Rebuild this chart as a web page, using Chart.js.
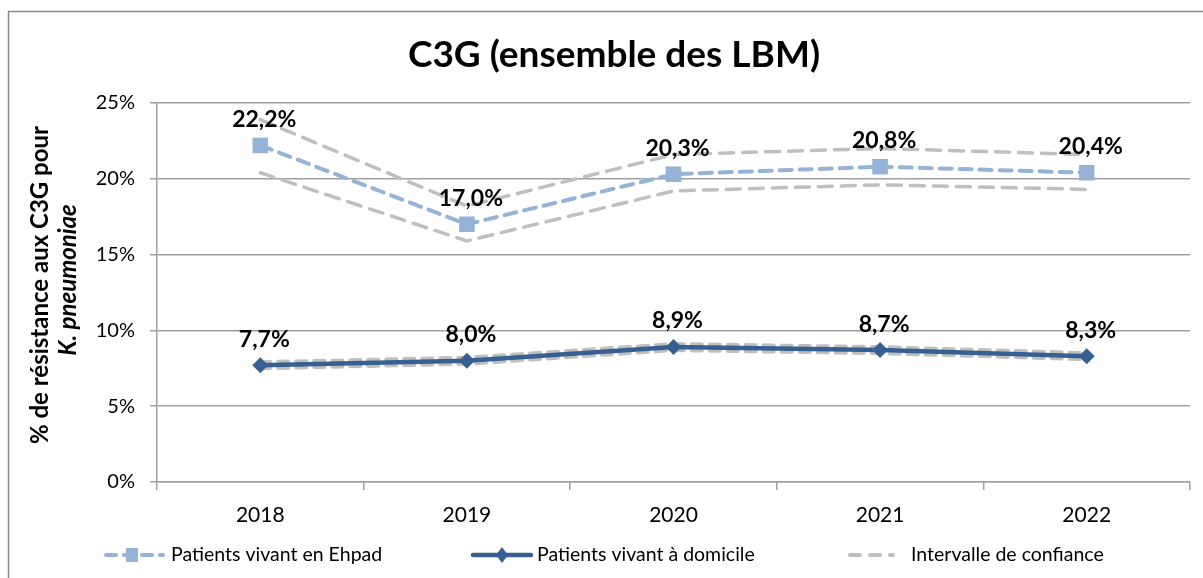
<!DOCTYPE html>
<html>
<head>
<meta charset="utf-8">
<script src="https://cdn.jsdelivr.net/npm/chart.js@4"></script>
<style>
  html, body { margin: 0; padding: 0; background: #ffffff; }
  #wrap { position: relative; width: 1203px; height: 578px; }
</style>
</head>
<body>
<div id="wrap"><canvas id="c" width="1203" height="578"></canvas></div>
<script>
const categories = ['2018', '2019', '2020', '2021', '2022'];
const ehpadValues = [22.2, 17.0, 20.3, 20.8, 20.4];
const ehpadUpper = [23.9, 18.2, 21.6, 22.0, 21.6];
const ehpadLower = [20.4, 15.9, 19.2, 19.6, 19.3];
const domicileValues = [7.7, 8.0, 8.9, 8.7, 8.3];
const domicileUpper = [7.9, 8.2, 9.1, 8.9, 8.5];
const domicileLower = [7.5, 7.8, 8.7, 8.5, 8.1];
const yTicks = [0, 5, 10, 15, 20, 25];
const titleText = 'C3G (ensemble des LBM)';
const yTitleLine1 = '% de résistance aux C3G pour';
const yTitleLine2 = 'K. pneumoniae';
const legendLabels = ['Patients vivant en Ehpad', 'Patients vivant à domicile', 'Intervalle de confiance'];

const FONT = 'Lato, "Open Sans", sans-serif';
const EHPAD = '#95B3D7';
const DOMI = '#376092';
const CI = '#BFBFBF';
const GRID = '#A0A0A0';

const fmt = v => v.toFixed(1).replace('.', ',') + '%';

const decorPlugin = {
  id: 'decor',
  beforeDraw(chart) {
    const ctx = chart.ctx;
    ctx.save();
    ctx.fillStyle = '#fff';
    ctx.fillRect(0, 0, chart.width, chart.height);
    ctx.strokeStyle = '#8a8a8a';
    ctx.lineWidth = 1.5;
    ctx.strokeRect(8.5, 11.5, chart.width + 20, chart.height + 20);
    ctx.restore();
  },
  afterDraw(chart) {
    const ctx = chart.ctx;
    ctx.save();
    // title
    ctx.fillStyle = '#000';
    ctx.font = 'bold 37px ' + FONT;
    ctx.textAlign = 'center';
    ctx.textBaseline = 'middle';
    ctx.fillText(titleText, 614, 55);
    // y title
    ctx.save();
    ctx.translate(40, 285);
    ctx.rotate(-Math.PI / 2);
    ctx.font = 'bold 24px ' + FONT;
    ctx.fillText(yTitleLine1, 0, 0);
    ctx.restore();
    ctx.save();
    ctx.translate(68, 280);
    ctx.rotate(-Math.PI / 2);
    ctx.font = 'italic bold 24px ' + FONT;
    ctx.fillText(yTitleLine2, 0, 0);
    ctx.restore();

    // legend
    const ly = 555;
    ctx.font = '19.5px ' + FONT;
    ctx.textAlign = 'left';
    ctx.fillStyle = '#000';
    // item 1
    ctx.strokeStyle = EHPAD;
    ctx.lineWidth = 4;
    ctx.lineCap = 'round';
    ctx.setLineDash([10, 8]);
    ctx.beginPath(); ctx.moveTo(106, ly); ctx.lineTo(163, ly); ctx.stroke();
    ctx.setLineDash([]);
    ctx.fillStyle = EHPAD;
    ctx.fillRect(126, ly - 7, 12, 14);
    ctx.fillStyle = '#000';
    ctx.fillText(legendLabels[0], 171, ly);
    // item 2
    ctx.strokeStyle = DOMI;
    ctx.lineWidth = 4.5;
    ctx.beginPath(); ctx.moveTo(473, ly); ctx.lineTo(531, ly); ctx.stroke();
    ctx.fillStyle = DOMI;
    ctx.beginPath();
    ctx.moveTo(502, ly - 8); ctx.lineTo(508, ly); ctx.lineTo(502, ly + 8); ctx.lineTo(496, ly);
    ctx.closePath(); ctx.fill();
    ctx.fillStyle = '#000';
    ctx.fillText(legendLabels[1], 537, ly);
    // item 3
    ctx.strokeStyle = CI;
    ctx.lineWidth = 4;
    ctx.setLineDash([10, 10]);
    ctx.beginPath(); ctx.moveTo(850, ly); ctx.lineTo(893, ly); ctx.stroke();
    ctx.setLineDash([]);
    ctx.fillText(legendLabels[2], 911, ly);
    ctx.restore();
  },
  afterDatasetsDraw(chart) {
    const ctx = chart.ctx;
    ctx.save();
    ctx.font = 'bold 23px ' + FONT;
    ctx.fillStyle = '#000';
    ctx.textAlign = 'center';
    ctx.textBaseline = 'middle';
    chart.data.datasets.forEach((ds, i) => {
      if (!ds.showLabels) return;
      const meta = chart.getDatasetMeta(i);
      meta.data.forEach((pt, j) => {
        ctx.fillText(fmt(ds.data[j]), pt.x + 4, pt.y - 26);
      });
    });
    ctx.restore();
  }
};

new Chart(document.getElementById('c'), {
  type: 'line',
  data: {
    labels: categories,
    datasets: [
      { label: 'IC Ehpad haut', data: ehpadUpper, borderColor: CI, borderWidth: 3.5, borderDash: [14, 9], borderCapStyle: 'round', pointRadius: 0, fill: false, order: 5 },
      { label: 'IC Ehpad bas', data: ehpadLower, borderColor: CI, borderWidth: 3.5, borderDash: [14, 9], borderCapStyle: 'round', pointRadius: 0, fill: false, order: 5 },
      { label: legendLabels[0], data: ehpadValues, borderColor: EHPAD, backgroundColor: EHPAD, borderWidth: 4, borderDash: [12, 8], borderCapStyle: 'round', pointStyle: 'rect', pointRadius: 11, pointBorderWidth: 0, fill: false, showLabels: true, order: 3 },
      { label: legendLabels[1], data: domicileValues, borderColor: DOMI, backgroundColor: DOMI, borderWidth: 4.5, pointStyle: 'rectRot', pointRadius: 8, pointBorderWidth: 0, fill: false, showLabels: true, order: 1 },
      { label: 'IC domicile haut', data: domicileUpper, borderColor: CI, borderWidth: 4, borderDash: [10, 8], borderCapStyle: 'round', pointRadius: 0, fill: false, order: 4 },
      { label: 'IC domicile bas', data: domicileLower, borderColor: CI, borderWidth: 4, borderDash: [10, 8], borderCapStyle: 'round', pointRadius: 0, fill: false, order: 4 }
    ]
  },
  options: {
    responsive: false,
    animation: false,
    devicePixelRatio: 1,
    layout: { padding: { left: 0, right: 13, top: 103, bottom: 0 } },
    plugins: { legend: { display: false }, title: { display: false }, tooltip: { enabled: false } },
    elements: { line: { tension: 0 } },
    scales: {
      x: {
        offset: true,
        grid: { offset: true, drawOnChartArea: false, drawTicks: true, tickLength: 8, color: GRID, lineWidth: 1.5 },
        border: { color: GRID, width: 1.5 },
        ticks: { color: '#000', font: { family: FONT, size: 21 }, padding: 13 },
        afterFit(s) { s.height = 96; }
      },
      y: {
        min: 0, max: 25,
        afterBuildTicks(s) { s.ticks = yTicks.map(v => ({ value: v })); },
        grid: { color: GRID, lineWidth: 1.5, tickLength: 7 },
        border: { color: GRID, width: 1.5 },
        ticks: { color: '#000', font: { family: FONT, size: 20 }, padding: 15, callback: v => v + '%' },
        afterFit(s) { s.width = 157; }
      }
    }
  },
  plugins: [decorPlugin]
});
</script>
</body>
</html>
